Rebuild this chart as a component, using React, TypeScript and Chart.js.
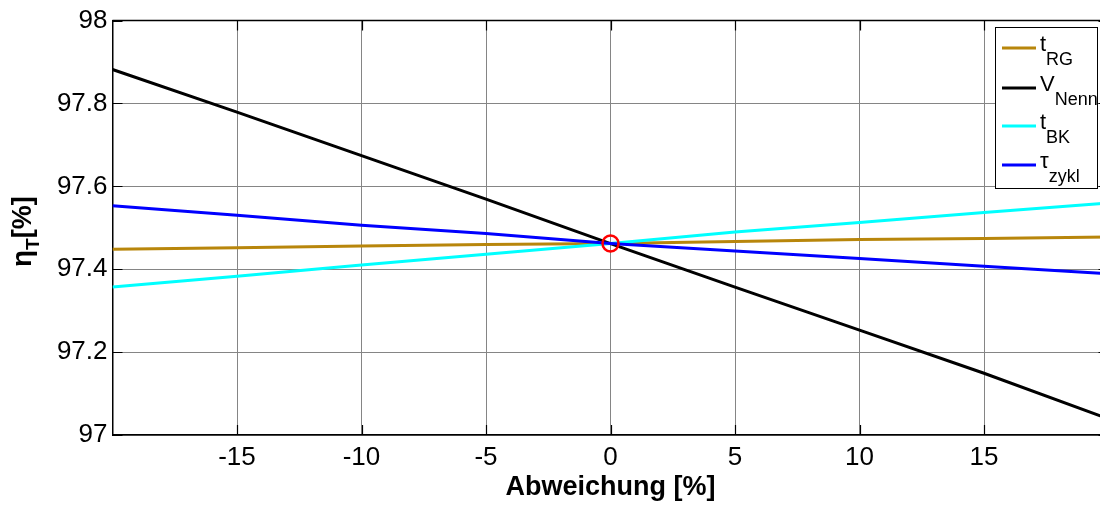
import React, { useEffect, useRef } from 'react';
import { Chart, registerables } from 'chart.js';

Chart.register(...registerables);

// ---- data ----
const deviation = [-20, -15, -10, -5, 0, 5, 10, 15, 20];
const tRG = [97.448, 97.452, 97.456, 97.46, 97.462, 97.467, 97.472, 97.474, 97.478];
const vNenn = [97.882, 97.779, 97.674, 97.569, 97.462, 97.357, 97.253, 97.149, 97.039];
const tBK = [97.357, 97.383, 97.41, 97.436, 97.462, 97.49, 97.513, 97.537, 97.56];
const tauZykl = [97.553, 97.53, 97.506, 97.486, 97.462, 97.444, 97.426, 97.407, 97.389];
const nominalX = [0];
const nominalY = [97.462];

const xTicks = [-15, -10, -5, 0, 5, 10, 15];
const yTicks = [97, 97.2, 97.4, 97.6, 97.8, 98];

const seriesMain = ['t', 'V', 't', 'τ'];
const seriesSub = ['RG', 'Nenn', 'BK', 'zykl'];
const seriesColors = ['#B8860B', '#000000', '#00FFFF', '#0000FF'];
const seriesValues = [tRG, vNenn, tBK, tauZykl];

const xTitle = 'Abweichung [%]';
const yTitleMain = 'η';
const yTitleSub = 'T';
const yTitleRest = '[%]';

const FONT = '"Liberation Sans", Arial, sans-serif';
const TARGET_RIGHT = 1108.5; // plot extends slightly beyond the visible 1100px

const decorPlugin = {
  id: 'decor',
  beforeDatasetsDraw(chart: any) {
    const { ctx, chartArea } = chart;
    const { left, right, top, bottom } = chartArea;
    const xs = chart.scales.x;
    const ys = chart.scales.y;
    ctx.save();
    ctx.strokeStyle = '#000';
    ctx.lineWidth = 1.2;
    const tl = 10;
    ctx.beginPath();
    xTicks.forEach((v) => {
      const px = Math.round(xs.getPixelForValue(v)) + 0.5;
      ctx.moveTo(px, bottom);
      ctx.lineTo(px, bottom - tl);
      ctx.moveTo(px, top);
      ctx.lineTo(px, top + tl);
    });
    yTicks.forEach((v) => {
      const py = Math.round(ys.getPixelForValue(v)) + 0.5;
      ctx.moveTo(left, py);
      ctx.lineTo(left + tl, py);
      ctx.moveTo(right, py);
      ctx.lineTo(right - tl, py);
    });
    ctx.stroke();
    ctx.lineWidth = 1.5;
    ctx.beginPath();
    ctx.moveTo(left, top);
    ctx.lineTo(right, top);
    ctx.lineTo(right, bottom);
    ctx.stroke();
    ctx.restore();
  },
  afterDraw(chart: any) {
    const { ctx } = chart;
    const xs = chart.scales.x;
    ctx.save();
    ctx.fillStyle = '#000';
    ctx.font = `bold 27px ${FONT}`;
    ctx.textAlign = 'center';
    ctx.textBaseline = 'alphabetic';
    ctx.fillText(xTitle, xs.getPixelForValue(0), 495);

    ctx.save();
    ctx.translate(31, 267);
    ctx.rotate(-Math.PI / 2);
    ctx.textAlign = 'left';
    ctx.font = `bold 28px ${FONT}`;
    ctx.fillText(yTitleMain, 0, 0);
    let w = ctx.measureText(yTitleMain).width;
    ctx.font = `bold 19px ${FONT}`;
    ctx.fillText(yTitleSub, w, 8);
    w += ctx.measureText(yTitleSub).width;
    ctx.font = `bold 27px ${FONT}`;
    ctx.fillText(yTitleRest, w, 0);
    ctx.restore();

    const bx = 995.5, by = 27.5, bw = 102, bh = 161;
    ctx.fillStyle = '#fff';
    ctx.fillRect(bx, by, bw, bh);
    ctx.strokeStyle = '#000';
    ctx.lineWidth = 1;
    ctx.strokeRect(bx, by, bw, bh);
    const rowY = [48, 88, 126, 165];
    seriesMain.forEach((m, i) => {
      const y = rowY[i];
      ctx.strokeStyle = seriesColors[i];
      ctx.lineWidth = 3;
      ctx.beginPath();
      ctx.moveTo(1002, y);
      ctx.lineTo(1036, y);
      ctx.stroke();
      ctx.fillStyle = '#000';
      ctx.textAlign = 'left';
      ctx.font = `22px ${FONT}`;
      ctx.fillText(m, 1040, y + 3);
      const mw = ctx.measureText(m).width;
      ctx.font = `18px ${FONT}`;
      ctx.fillText(seriesSub[i], 1040 + mw, y + 17);
    });
    ctx.restore();
  },
};

function buildChart(canvas: HTMLCanvasElement, width: number) {
  canvas.width = width;
  canvas.height = 507;
  canvas.style.width = width + 'px';
  canvas.style.height = '507px';
  const datasets: any[] = [
    {
      label: 'nominal',
      data: nominalX.map((x, i) => ({ x, y: nominalY[i] })),
      showLine: false,
      pointRadius: 8,
      pointBorderWidth: 2.5,
      pointBorderColor: '#FF0000',
      pointBackgroundColor: 'rgba(0,0,0,0)',
      borderColor: '#FF0000',
      order: 0,
    },
    ...seriesValues.map((vals, i) => ({
      label: seriesMain[i] + seriesSub[i],
      data: deviation.map((x, j) => ({ x, y: vals[j] })),
      borderColor: seriesColors[i],
      borderWidth: 3,
      pointRadius: 0,
      tension: 0,
      fill: false,
      order: 10 - i,
    })),
  ];
  return new Chart(canvas, {
    type: 'line',
    data: { datasets },
    options: {
      animation: false,
      responsive: false,
      maintainAspectRatio: false,
      events: [],
      layout: { padding: { top: 19.4, right: 1.5, left: 0, bottom: 0 } },
      plugins: { legend: { display: false }, tooltip: { enabled: false } },
      scales: {
        x: {
          type: 'linear',
          min: -20,
          max: 20,
          afterBuildTicks: (s: any) => {
            s.ticks = xTicks.map((v) => ({ value: v }));
          },
          afterFit: (s: any) => {
            s.height = 72;
          },
          grid: { color: '#858585', lineWidth: 1, drawTicks: false },
          border: { display: true, color: '#000', width: 1.5 },
          ticks: {
            color: '#000',
            font: { family: FONT, size: 26 },
            padding: 7,
            maxRotation: 0,
            autoSkip: false,
          },
        },
        y: {
          type: 'linear',
          min: 97,
          max: 98,
          afterBuildTicks: (s: any) => {
            s.ticks = yTicks.map((v) => ({ value: v }));
          },
          afterFit: (s: any) => {
            s.width = 112.5;
          },
          grid: { color: '#858585', lineWidth: 1, drawTicks: false },
          border: { display: true, color: '#000', width: 1.5 },
          ticks: {
            color: '#000',
            font: { family: FONT, size: 26 },
            padding: 5,
            autoSkip: false,
            callback: (v: any) => String(Math.round(Number(v) * 10) / 10),
          },
        },
      },
    },
    plugins: [decorPlugin],
  });
}

export default function App() {
  const ref = useRef<HTMLCanvasElement | null>(null);
  useEffect(() => {
    const canvas = ref.current!;
    let width = 1110;
    let chart = buildChart(canvas, width);
    const diff = Math.round(TARGET_RIGHT - chart.chartArea.right);
    if (diff !== 0) {
      chart.destroy();
      width += diff;
      chart = buildChart(canvas, width);
    }
    return () => chart.destroy();
  }, []);
  return (
    <div style={{ position: 'fixed', left: 0, top: 0, width: 1100, height: 507, overflow: 'hidden', background: '#fff' }}>
      <canvas ref={ref} width={1110} height={507} style={{ width: 1110, height: 507, display: 'block' }} />
    </div>
  );
}
